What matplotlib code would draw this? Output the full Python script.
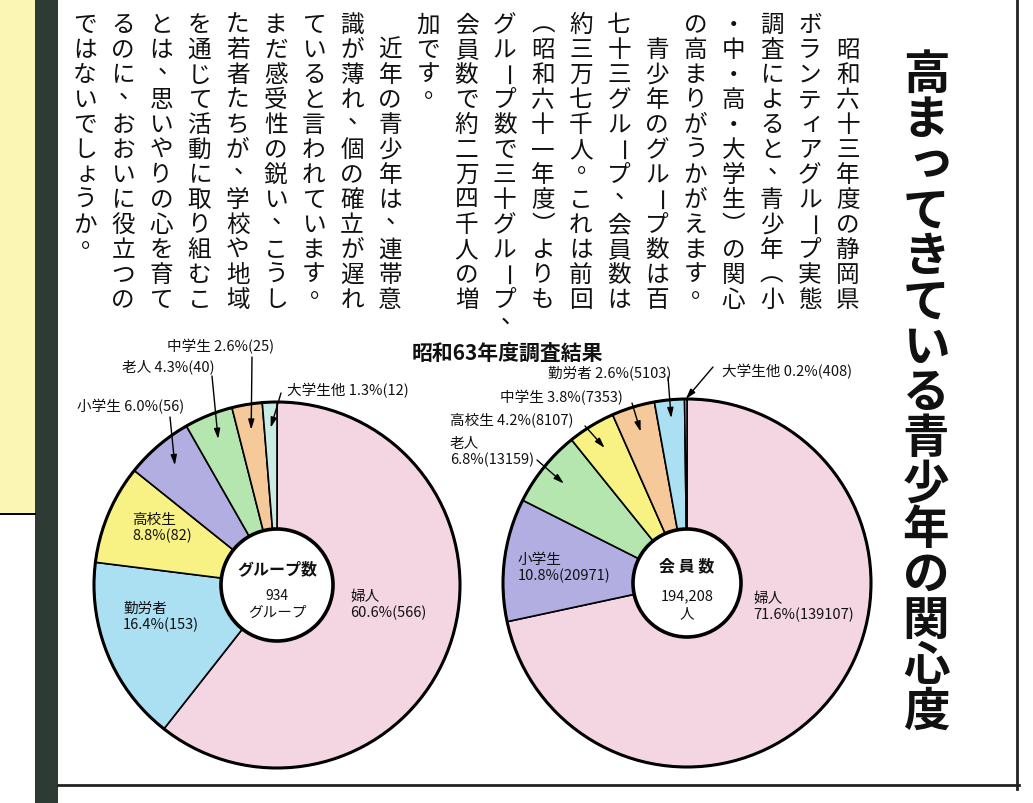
import matplotlib
matplotlib.use('Agg')
import matplotlib.pyplot as plt
from matplotlib.patches import Circle, Rectangle
import numpy as np

plt.rcParams['font.family'] = ['Noto Sans CJK JP', 'DejaVu Sans']

W, H = 1033, 804

# ---------------- data ----------------
group_labels = ['婦人', '勤労者', '高校生', '小学生', '老人', '中学生', '大学生他']
group_values = [566, 153, 82, 56, 40, 25, 12]
group_pcts = ['60.6%', '16.4%', '8.8%', '6.0%', '4.3%', '2.6%', '1.3%']

member_labels = ['婦人', '小学生', '老人', '高校生', '中学生', '勤労者', '大学生他']
member_values = [139107, 20971, 13159, 8107, 7353, 5103, 408]
member_pcts = ['71.6%', '10.8%', '6.8%', '4.2%', '3.8%', '2.6%', '0.2%']

group_center_title = 'グループ数'
group_total_text = '934'
group_unit = 'グループ'
member_center_title = '会 員 数'
member_total_text = '194,208'
member_unit = '人'

chart_title = '昭和63年度調査結果'
headline = '高まってきている青少年の関心度'

body_columns = [
    '昭和六十三年度の静岡県',
    'ボランティアグループ実態',
    '調査によると、青少年（小',
    '・中・高・大学生）の関心',
    'の高まりがうかがえます。',
    '青少年のグループ数は百',
    '七十三グループ、会員数は',
    '約三万七千人。これは前回',
    '（昭和六十一年度）よりも',
    'グループ数で三十グループ、',
    '会員数で約二万四千人の増',
    '加です。',
    '近年の青少年は、連帯意',
    '識が薄れ、個の確立が遅れ',
    'ていると言われています。',
    'まだ感受性の鋭い、こうし',
    'た若者たちが、学校や地域',
    'を通じて活動に取り組むこ',
    'とは、思いやりの心を育て',
    'るのに、おおいに役立つの',
    'ではないでしょうか。',
]
indented_columns = [0, 5, 12]

colors = {
    '婦人': '#F4D5E2',
    '勤労者': '#ABDFF2',
    '高校生': '#F8F284',
    '小学生': '#B2AEE2',
    '老人': '#B6E6AF',
    '中学生': '#F5C99A',
    '大学生他': '#CAEDE3',
}

# ---------------- figure ----------------
fig = plt.figure(figsize=(W / 100, H / 100), dpi=100)
fig.patch.set_facecolor('white')
ax = fig.add_axes([0, 0, 1, 1])


def Y(y):
    return H - y


# frame elements
ax.add_patch(Rectangle((0, Y(515)), 35, 515, facecolor='#FCF6B4', edgecolor='none', zorder=0))
ax.plot([0, 35], [Y(515), Y(515)], color='black', lw=1.4)
ax.add_patch(Rectangle((35, 0), 23, H, facecolor='#2E3B34', edgecolor='none', zorder=1))
ax.plot([1017, 1017], [Y(0), Y(790)], color='#222222', lw=2.0)
ax.plot([58, 1019], [Y(786), Y(786)], color='#222222', lw=2.0)

# ---------------- vertical text ----------------
small_kana = 'ぁぃぅぇぉっゃゅょァィゥェォッャュョ'
vertical_forms = {'（': '\ufe35', '）': '\ufe36'}


def vtext(x, y_top, s, fs, pitch, weight='normal'):
    em = fs * 100 / 72
    for i, ch in enumerate(s):
        cy = y_top + (i + 0.5) * pitch
        if ch in '、。':
            ax.text(x + 0.33 * em, Y(cy - 0.14 * em), ch, fontsize=fs, ha='center',
                    va='baseline', weight=weight, color='#111111')
        elif ch == 'ー':
            ax.text(x, Y(cy), ch, fontsize=fs, ha='center', va='center', rotation=-90,
                    weight=weight, color='#111111')
        elif ch in vertical_forms:
            ax.text(x, Y(cy), vertical_forms[ch], fontsize=fs, ha='center', va='center',
                    weight=weight, color='#111111')
        elif ch in small_kana:
            ax.text(x + 0.1 * em, Y(cy - 0.1 * em), ch, fontsize=fs, ha='center',
                    va='center', weight=weight, color='#111111')
        else:
            ax.text(x, Y(cy), ch, fontsize=fs, ha='center', va='center',
                    weight=weight, color='#111111')


body_fs = 17
body_pitch = 25
for i, col in enumerate(body_columns):
    x = 848 - i * 38.15
    top = 13 + (body_pitch if i in indented_columns else 0)
    vtext(x, top, col, body_fs, body_pitch)

vtext(926, 52, headline, 33.5, 45.5, weight='bold')

# ---------------- pies ----------------
label_fs = 10.5


def draw_pie(cx, cy, R, r_in, labels, values, pcts, layout, center_lines):
    wedges, _ = ax.pie(values, colors=[colors[l] for l in labels], startangle=90,
                       counterclock=False, center=(cx, Y(cy)), radius=R,
                       wedgeprops=dict(edgecolor='black', linewidth=1.2))
    ax.add_patch(Circle((cx, Y(cy)), R, fill=False, edgecolor='black', lw=2.2, zorder=4))
    ax.add_patch(Circle((cx, Y(cy)), r_in, facecolor='white', edgecolor='black', lw=2.6, zorder=5))
    for w, lab, val, pc in zip(wedges, labels, values, pcts):
        tx, ty, two_line, tail, rf = layout[lab]
        sep = '\n' if two_line else ' '
        ax.text(tx, Y(ty), f'{lab}{sep}{pc}({val})', fontsize=label_fs, ha='left',
                va='center', linespacing=1.1, color='#111111', zorder=6)
        if tail is not None:
            mid = np.deg2rad((w.theta1 + w.theta2) / 2)
            tip = (cx + rf * R * np.cos(mid), Y(cy) + rf * R * np.sin(mid))
            ax.annotate('', xy=tip, xytext=(tail[0], Y(tail[1])),
                        arrowprops=dict(arrowstyle='-|>,head_length=0.6,head_width=0.18',
                                        color='black', lw=1.0, shrinkA=0, shrinkB=0),
                        zorder=6)
    for (txt, dy, fs, wt) in center_lines:
        ax.text(cx, Y(cy + dy), txt, fontsize=fs, ha='center', va='center', weight=wt,
                color='#111111', zorder=7)


group_layout = {
    '婦人': (350, 605, True, None, 0),
    '勤労者': (123, 617, True, None, 0),
    '高校生': (132, 528, True, None, 0),
    '小学生': (77, 407, False, (170, 418), 0.86),
    '老人': (122, 367, False, (212, 377), 0.86),
    '中学生': (167, 347, False, (252, 358), 0.86),
    '大学生他': (287, 391, False, (281, 394), 0.86),
}
draw_pie(277, 586, 183, 56, group_labels, group_values, group_pcts, group_layout,
         [(group_center_title, -17, 11.5, 'bold'),
          (group_total_text, 10, 10, 'normal'),
          (group_unit, 27, 10.5, 'normal')])

member_layout = {
    '婦人': (753, 607, True, None, 0),
    '小学生': (518, 568, True, None, 0),
    '老人': (450, 452, True, (537, 461), 0.86),
    '高校生': (450, 420, False, (585, 427), 0.86),
    '中学生': (500, 398, False, (632, 404), 0.86),
    '勤労者': (548, 373, False, (668, 378), 0.9),
    '大学生他': (722, 372, False, (713, 368), 1.0),
}
draw_pie(687, 584, 184, 54, member_labels, member_values, member_pcts, member_layout,
         [(member_center_title, -18, 11.5, 'bold'),
          (member_total_text, 12, 10.5, 'normal'),
          (member_unit, 30, 10.5, 'normal')])

ax.text(507, Y(353), chart_title, fontsize=15, weight='bold', ha='center', va='center',
        color='#111111')

ax.set_xlim(0, W)
ax.set_ylim(0, H)
ax.set_aspect('auto')
ax.axis('off')

fig.savefig('out.png', dpi=100, facecolor='white')
